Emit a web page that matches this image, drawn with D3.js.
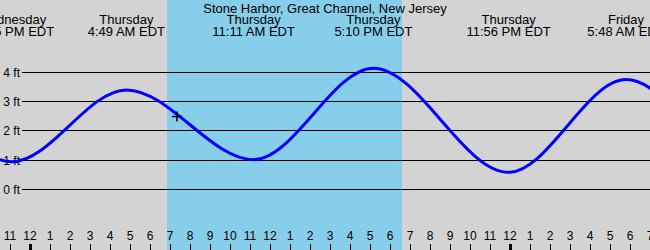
<!DOCTYPE html>
<html>
<head>
<meta charset="utf-8">
<script src="https://cdn.jsdelivr.net/npm/d3@7"></script>
<style>
  html, body { margin: 0; padding: 0; background: #d3d3d3; }
  svg { display: block; font-family: "Liberation Sans", Arial, sans-serif; }
</style>
</head>
<body>
<svg id="tide-chart" width="650" height="250"></svg>
<script>
// Hours are counted from Thursday 00:00 EDT
const title = "Stone Harbor, Great Channel, New Jersey";
const extremeHours = [-13.3, -7.1, -0.9, 4.82, 11.18, 17.17, 23.93, 29.8, 36.1, 42.3];
const extremeFeet = [0.8, 3.5, 0.93, 3.38, 1.0, 4.12, 0.57, 3.73, 0.7, 3.6];
const extremeDays = ["Wednesday", "Wednesday", "Wednesday", "Thursday", "Thursday", "Thursday", "Thursday", "Friday", "Friday", "Friday"];
const extremeTimes = ["10:42 AM EDT", "4:54 PM EDT", "11:05 PM EDT", "4:49 AM EDT", "11:11 AM EDT", "5:10 PM EDT", "11:56 PM EDT", "5:48 AM EDT", "12:06 PM EDT", "6:18 PM EDT"];
const sunriseHour = 6.85;
const sunsetHour = 18.6;
const nowHour = 7.35;
const nowFeet = 2.47;
const feetTicks = [0, 1, 2, 3, 4];
const hourTicks = d3.range(-1, 32);

const svg = d3.select("#tide-chart");
const width = 650, height = 250;

const x = d3.scaleLinear().domain([0, 24]).range([30, 510]);
const y = d3.scaleLinear().domain([0, 4]).range([189, 71.7]);

svg.append("rect")
  .attr("width", width).attr("height", height)
  .attr("fill", "#d3d3d3");

// daylight band
svg.append("rect")
  .attr("x", x(sunriseHour))
  .attr("y", 0)
  .attr("width", x(sunsetHour) - x(sunriseHour))
  .attr("height", height)
  .attr("fill", "#87ceeb");

// feet grid + labels
const gGrid = svg.append("g");
feetTicks.forEach((f) => {
  const yy = Math.round(y(f)) + 0.5;
  gGrid.append("line")
    .attr("x1", 22).attr("x2", width)
    .attr("y1", yy).attr("y2", yy)
    .attr("stroke", "#000").attr("stroke-width", 1);
  gGrid.append("text")
    .attr("x", 20).attr("y", yy)
    .attr("dy", "0.35em")
    .attr("text-anchor", "end")
    .attr("font-size", 12)
    .attr("fill", "#000")
    .text(`${f} ft`);
});

// tide curve (extra extremes off-screen keep the edges shaped right)
const tide = extremeHours.map((h, i) => ({ h, f: extremeFeet[i], day: extremeDays[i], time: extremeTimes[i] }));
svg.append("clipPath").attr("id", "clip")
  .append("rect").attr("width", width).attr("height", height);
svg.append("path")
  .datum(tide)
  .attr("clip-path", "url(#clip)")
  .attr("fill", "none")
  .attr("stroke", "#0000ff")
  .attr("stroke-width", 3)
  .attr("d", d3.line()
    .x((d) => x(d.h))
    .y((d) => y(d.f))
    .curve(d3.curveMonotoneX));

// current time marker
const cx = x(nowHour), cy = y(nowFeet);
svg.append("path")
  .attr("d", `M${cx - 5},${cy}H${cx + 5}M${cx},${cy - 5}V${cy + 5}`)
  .attr("stroke", "#000").attr("stroke-width", 1.5);

// title and extreme labels
svg.append("text")
  .attr("x", width / 2).attr("y", 12.5)
  .attr("text-anchor", "middle")
  .attr("font-size", 13)
  .text(title);

const visible = tide.filter((d) => x(d.h) > -60 && x(d.h) < width + 60);
const labels = svg.append("g").attr("font-size", 13).attr("text-anchor", "middle");
visible.forEach((d) => {
  labels.append("text").attr("x", x(d.h)).attr("y", 24).text(d.day);
  labels.append("text").attr("x", x(d.h)).attr("y", 36).text(d.time);
});

// hour axis
const gHours = svg.append("g");
hourTicks.forEach((h) => {
  const hh = ((h % 12) + 12) % 12 || 12;
  const xx = Math.round(x(h)) + 0.5;
  const midnight = ((h % 24) + 24) % 24 === 0;
  gHours.append("text")
    .attr("x", x(h)).attr("y", 240)
    .attr("text-anchor", "middle")
    .attr("font-size", 12)
    .text(hh);
  gHours.append("line")
    .attr("x1", xx).attr("x2", xx)
    .attr("y1", 244).attr("y2", 250)
    .attr("stroke", "#000")
    .attr("stroke-width", midnight ? 3 : 1);
});
</script>
</body>
</html>
